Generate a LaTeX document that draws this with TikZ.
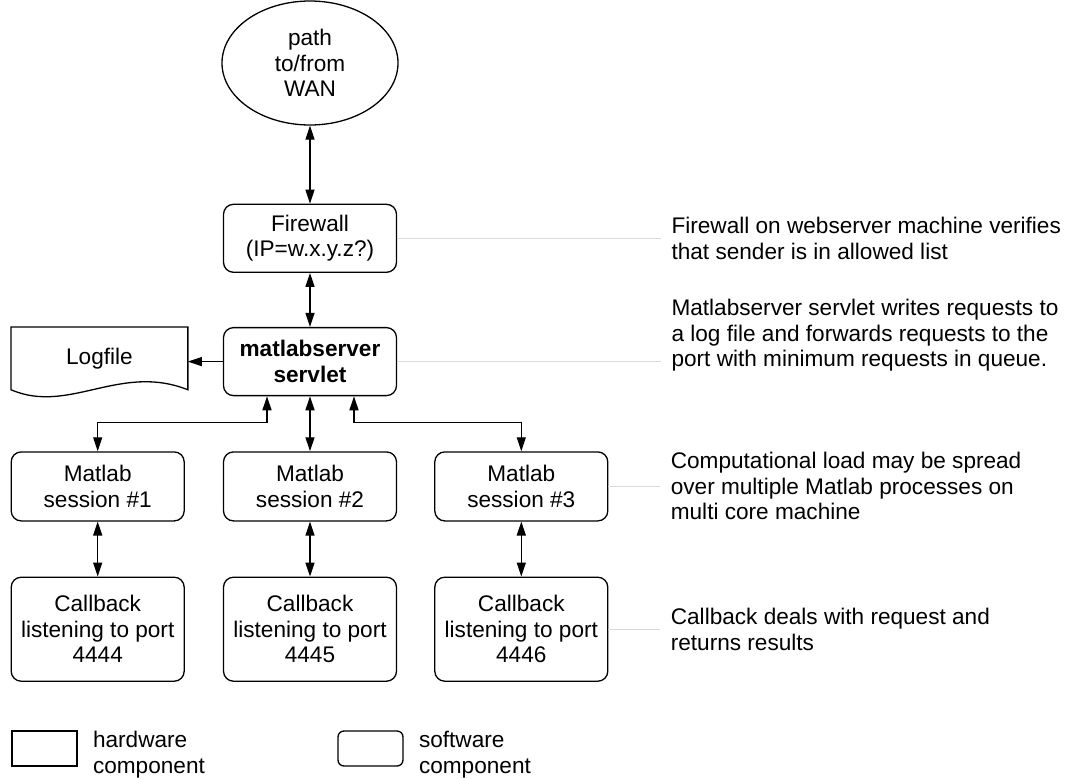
\documentclass[tikz,border=0pt]{standalone}
\usepackage{fontspec}
\setsansfont{Liberation Sans}
\usetikzlibrary{arrows.meta,positioning,shapes.geometric}
\tikzset{
  base/.style={font=\sffamily\fontsize{11.3}{12.75}\selectfont, align=center, inner sep=2pt},
  swbox/.style={base, draw, rounded corners=5pt, line width=0.65pt, minimum width=86.5pt, minimum height=34pt},
  cbbox/.style={swbox, minimum height=52pt},
  wanball/.style={base, draw, ellipse, line width=0.65pt, minimum width=88pt, minimum height=62pt, inner sep=0pt},
  hwbox/.style={draw, line width=0.65pt, minimum width=32.5pt, minimum height=17.5pt, inner sep=0pt},
  legsw/.style={hwbox, rounded corners=3pt},
  note/.style={base, align=left, inner xsep=5pt, inner ysep=0pt},
  arr/.style={-{Triangle[length=7pt,width=4.5pt]}, line width=0.65pt},
  dbl/.style={{Triangle[length=7pt,width=4.5pt]}-{Triangle[length=7pt,width=4.5pt]}, line width=0.65pt},
  lead/.style={draw=black!15, line width=0.5pt},
}
\begin{document}
\begin{tikzpicture}
\useasboundingbox (0,0) rectangle (533.5pt,-389pt);
% main chain
\node[wanball] (wan) at (155pt,-31.5pt) {path\\to/from\\WAN};
\node[swbox, below=39pt of wan] (fw) {Firewall\\(IP=w.x.y.z?)};
\node[swbox, below=27pt of fw] (srv) {\textbf{matlabserver}\\\textbf{servlet}};
\node[base, anchor=north east, minimum width=88pt, minimum height=31pt] (log) at ([xshift=-17.5pt]srv.north west) {Logfile};
\draw[line width=0.65pt] (log.north west) -- (log.south west)
  .. controls +(29pt,-12.5pt) and +(-34pt,13.5pt) .. (log.south east) -- (log.north east) -- cycle;
% sessions and callbacks
\node[swbox, below=27.5pt of srv, minimum height=34.5pt] (s2) {Matlab\\session \#2};
\node[swbox, left=19pt of s2, minimum height=34.5pt] (s1) {Matlab\\session \#1};
\node[swbox, right=18.5pt of s2, minimum height=34.5pt] (s3) {Matlab\\session \#3};
\node[cbbox, below=27.5pt of s1] (c1) {Callback\\listening to port\\4444};
\node[cbbox, below=27.5pt of s2] (c2) {Callback\\listening to port\\4445};
\node[cbbox, below=27.5pt of s3] (c3) {Callback\\listening to port\\4446};
\draw[dbl] (wan) -- (fw);
\draw[dbl] (fw) -- (srv);
\draw[arr] (srv.west) -- (srv.west -| log.east);
\draw[dbl] (srv) -- (s2);
\draw[dbl] ([xshift=-21.5pt]srv.south) -- ++(0,-13pt) -| (s1.north);
\draw[dbl] ([xshift=22pt]srv.south) -- ++(0,-13pt) -| (s3.north);
\draw[dbl] (s1) -- (c1);
\draw[dbl] (s2) -- (c2);
\draw[dbl] (s3) -- (c3);
% notes
\node[note, right=132pt of fw] (nfw) {Firewall on webserver machine verifies\\that sender is in allowed list};
\node[note, right=132pt of srv, yshift=13pt] (nsrv) {Matlabserver servlet writes requests to\\a log file and forwards requests to the\\port with minimum requests in queue.};
\node[note, right=26pt of s3] (ns3) {Computational load may be spread\\over multiple Matlab processes on\\multi core machine};
\node[note, right=26pt of c3] (nc3) {Callback deals with request and\\returns results};
\draw[lead] (fw.east) -- (fw.east -| nfw.west);
\draw[lead] (srv.east) -- (srv.east -| nsrv.west);
\draw[lead] (s3.east) -- (ns3.west);
\draw[lead] (c3.east) -- (nc3.west);
% legend
\node[hwbox] (hw) at (22.25pt,-374.25pt) {};
\node[note, right=2.5pt of hw, yshift=-3pt] (hwtxt) {hardware\\component};
\node[legsw] (swl) at (185.25pt,-374.25pt) {};
\node[note, right=2.5pt of swl, yshift=-3pt] (swtxt) {software\\component};
\end{tikzpicture}
\end{document}
